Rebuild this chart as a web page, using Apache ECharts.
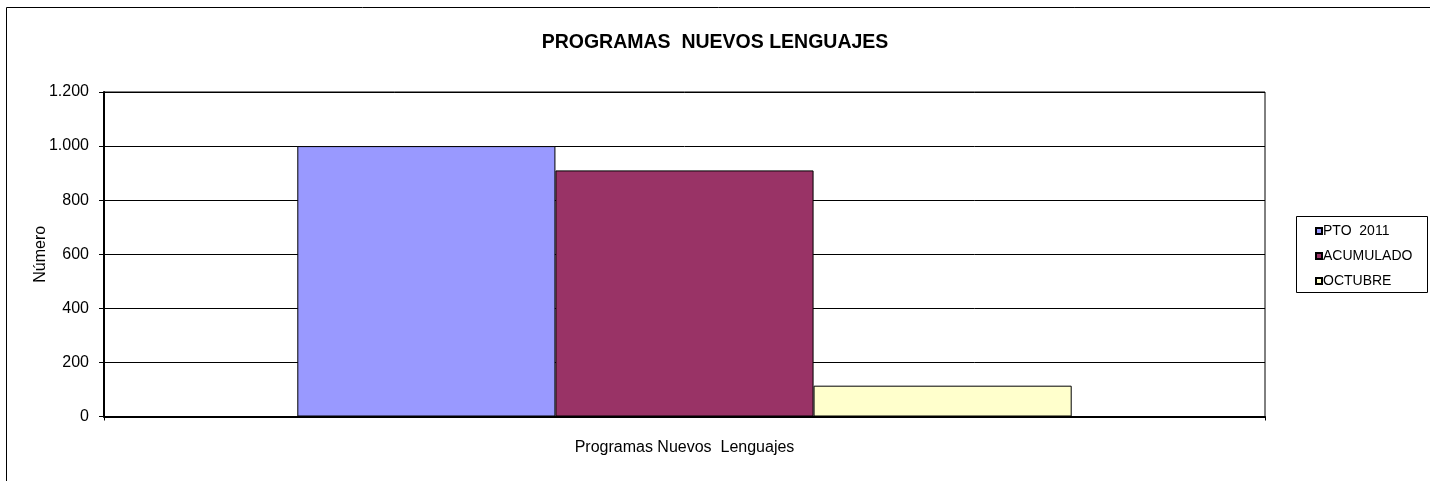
<!DOCTYPE html>
<html>
<head>
<meta charset="utf-8">
<script src="https://cdn.jsdelivr.net/npm/echarts@6/dist/echarts.min.js"></script>
<style>html,body{margin:0;padding:0;background:#fff;}#c{width:1430px;height:481px;}</style>
</head>
<body>
<div id="c"></div>
<script>
var categories = ['Programas Nuevos  Lenguajes'];
var seriesNames = ['PTO  2011', 'ACUMULADO', 'OCTUBRE'];
var pto2011 = [1000];
var acumulado = [910];
var octubre = [114];
var yTicks = [0, 200, 400, 600, 800, 1000, 1200];
var colors = ['#9999FF', '#993366', '#FFFFCC'];

function fmt(v){ return v >= 1000 ? String(v).replace(/(\d)(\d{3})$/, '$1.$2') : String(v); }

var chart = echarts.init(document.getElementById('c'), null, {renderer:'canvas'});
var font = 'Arial, "Liberation Sans", sans-serif';
var values = [pto2011, acumulado, octubre];
chart.setOption({
  animation: false,
  textStyle: {fontFamily: font},
  title: {
    text: 'PROGRAMAS  NUEVOS LENGUAJES',
    left: 'center', top: 28,
    textStyle: {fontSize: 19.5, fontWeight: 'bold', color: '#000', fontFamily: font}
  },
  graphic: [
    {type:'rect', shape:{x:6.5, y:7.5, width:1440, height:500}, style:{fill:'none', stroke:'#000', lineWidth:1}, silent:true, z:-1},
    {type:'rect', shape:{x:1296.5, y:216.5, width:131, height:76}, style:{fill:'#fff', stroke:'#000', lineWidth:1}, silent:true, z:0}
  ],
  legend: {
    orient: 'vertical', left: 1310, top: 219,
    itemWidth: 6, itemHeight: 6, itemGap: 11,
    icon: 'rect',
    data: seriesNames,
    textStyle: {fontSize: 14, lineHeight: 14, color: '#000', fontFamily: font, padding: [0,0,0,-4]},
    z: 5
  },
  grid: {left: 104, right: 165, top: 92, bottom: 64.5, show: true, borderColor: '#000', borderWidth: 1, backgroundColor: 'transparent'},
  xAxis: {
    type: 'category', data: categories,
    axisLine: {lineStyle: {color: '#000', width: 2}},
    axisTick: {show: true, length: 4, lineStyle: {color: '#000'}},
    axisLabel: {color: '#000', fontSize: 16, margin: 23, fontFamily: font},
    splitLine: {show: false}
  },
  yAxis: {
    type: 'value', min: yTicks[0], max: yTicks[yTicks.length-1], interval: yTicks[1]-yTicks[0],
    name: 'Número', nameLocation: 'middle', nameGap: 55, nameRotate: 90, nameMoveOverlap: false,
    nameTextStyle: {fontSize: 16, color: '#000', fontFamily: font},
    axisLine: {show: true, lineStyle: {color: '#000', width: 2}},
    axisTick: {show: true, length: 5, lineStyle: {color: '#000'}},
    axisLabel: {color: '#000', fontSize: 16, margin: 15, formatter: fmt, fontFamily: font},
    splitLine: {show: true, lineStyle: {color: '#000', width: 1}}
  },
  series: seriesNames.map(function(n, i){
    return {
      name: n, type: 'bar', data: values[i],
      barGap: '0%', barCategoryGap: '33.3%',
      itemStyle: {color: colors[i], borderColor: '#000', borderWidth: 1}
    };
  })
});
</script>
</body>
</html>
